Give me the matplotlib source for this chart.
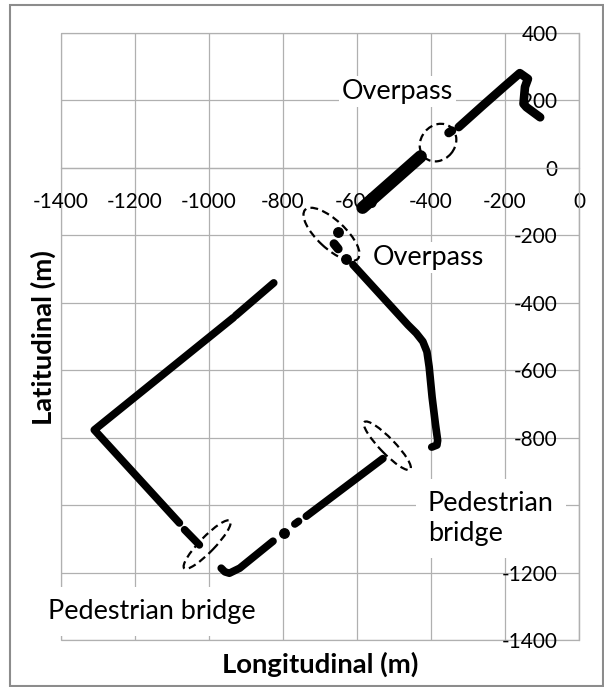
import matplotlib
matplotlib.use("Agg")
import matplotlib.pyplot as plt
from matplotlib.patches import Ellipse, Rectangle
from matplotlib.transforms import ScaledTranslation

# ---------------- data ----------------
x_ticks = [-1400, -1200, -1000, -800, -600, -400, -200, 0]
x_tick_labels = ["-1400", "-1200", "-1000", "-800", "-600", "-400", "-200", "0"]
y_ticks = [-1400, -1200, -1000, -800, -600, -400, -200, 0, 200, 400]
# the -1000 label is hidden behind the "Pedestrian bridge" note in the original
y_tick_labels = ["-1400", "-1200", "", "-800", "-600", "-400", "-200", "0", "200", "400"]

# trajectory pieces (longitudinal m, latitudinal m)
route_a_lon = [-585, -428]
route_a_lat = [-118, 34]
route_b_lon = [-352, -344]
route_b_lat = [104, 110]
route_c_lon = [-325, -260, -200, -160, -138, -146, -150, -142, -105]
route_c_lat = [121, 185, 243, 281, 264, 240, 190, 180, 150]
route_d_lon = [-611, -462, -440, -422, -411, -405, -397, -388, -382, -384, -398]
route_d_lat = [-287, -466, -490, -515, -545, -590, -680, -760, -808, -822, -828]
route_e1_lon = [-825, -928]
route_e1_lat = [-341, -438]
route_e2_lon = [-934, -1310, -1080]
route_e2_lat = [-444, -777, -1053]
route_e3_lon = [-1066, -1026]
route_e3_lat = [-1073, -1118]
route_f1_lon = [-967, -957, -945, -917, -827]
route_f1_lat = [-1187, -1198, -1202, -1187, -1107]
route_f2_lon = [-768, -758]
route_f2_lat = [-1056, -1048]
route_f3_lon = [-737, -530]
route_f3_lat = [-1033, -862]
blob_lon = [-662, -651]
blob_lat = [-225, -240]
dots_lon = [-651, -629, -798]
dots_lat = [-190, -269, -1083]

# annotations
ellipse_lon = [-381, -669, -518, -1005]
ellipse_lat = [75, -197, -824, -1117]
label_texts = ["Overpass", "Overpass", "Pedestrian\nbridge", "Pedestrian bridge"]
label_lon = [-490, -406, -409, -1154]
label_lat = [226, -266, -1039, -1316]

# ---------------- figure ----------------
W, H, DPI = 604, 687, 100
fig = plt.figure(figsize=(W / DPI, H / DPI), dpi=DPI)
plt.rcParams['font.family'] = ['Lato', 'DejaVu Sans']

L, R, T, B = 61, 579, 33, 640
ax = fig.add_axes([L / W, 1 - B / H, (R - L) / W, (B - T) / H])
ax.set_xlim(-1400, 0)
ax.set_ylim(-1400, 400)

grid_c = '#b0b0b0'
ax.set_axisbelow(True)
ax.grid(True, color=grid_c, lw=0.9)
for s in ['top', 'right']:
    ax.spines[s].set_visible(False)
ax.spines['left'].set_position(('data', 0))
ax.spines['bottom'].set_position(('data', 0))
for s in ['left', 'bottom']:
    ax.spines[s].set_color(grid_c)
    ax.spines[s].set_linewidth(0.9)
# outer frame of plot area
ax.add_patch(Rectangle((0, 0), 1, 1, transform=ax.transAxes, fill=False,
                       ec=grid_c, lw=0.9, clip_on=False, zorder=0.4))

ax.set_xticks(x_ticks)
ax.set_xticklabels(x_tick_labels)
ax.set_yticks(y_ticks)
ax.set_yticklabels(y_tick_labels)

fig.canvas.draw()
rend = fig.canvas.get_renderer()

def fitted_size(txt, target_px, weight='normal', base=20):
    t = fig.text(0, 0, txt, fontsize=base, fontweight=weight)
    w = t.get_window_extent(rend).width
    t.remove()
    return base * target_px / w

tick_fs = fitted_size("-1400", 56)
ann_fs = fitted_size("Pedestrian bridge", 209)
lab_fs = fitted_size("Longitudinal (m)", 196, 'bold')

ax.tick_params(axis='x', length=0, pad=17.5, labelsize=tick_fs, colors='black')
ax.tick_params(axis='y', length=0, pad=15.5, labelsize=tick_fs, colors='black')

# trajectory
lw = 5.5
kw = dict(color='black', solid_capstyle='round', solid_joinstyle='round', zorder=5)
ax.plot(route_a_lon, route_a_lat, lw=9.0, **kw)
ax.plot(route_b_lon, route_b_lat, lw=6.5, **kw)
ax.plot(route_c_lon, route_c_lat, lw=6.2, **kw)
ax.plot(route_d_lon, route_d_lat, lw=lw, **kw)
ax.plot(route_e1_lon, route_e1_lat, lw=lw, **kw)
ax.plot(route_e2_lon, route_e2_lat, lw=lw, **kw)
ax.plot(route_e3_lon, route_e3_lat, lw=lw, **kw)
ax.plot(route_f1_lon, route_f1_lat, lw=lw, **kw)
ax.plot(route_f2_lon, route_f2_lat, lw=lw, **kw)
ax.plot(route_f3_lon, route_f3_lat, lw=lw, **kw)
ax.plot(blob_lon, blob_lat, lw=6.5, **kw)
ax.plot(dots_lon, dots_lat, ls='none', marker='o', ms=6.8, color='black', zorder=5)

# ellipses: sizes in pixels (width, height, angle)
ell_px = [(40, 34, 50), (72, 28, -43), (66, 15, -46), (66, 15, 46)]
for (cx, cy), (w, h, a) in zip(zip(ellipse_lon, ellipse_lat), ell_px):
    tr = fig.dpi_scale_trans + ScaledTranslation(cx, cy, ax.transData)
    e = Ellipse((0, 0), w / DPI, h / DPI, angle=a, transform=tr, fill=False,
                ec='black', lw=1.6, ls=(0, (3.5, 2.0)), zorder=6, clip_on=False)
    ax.add_artist(e)

# text labels with white boxes
pads_px = [3, 3, 12, 12]
for txt, x, y, p in zip(label_texts, label_lon, label_lat, pads_px):
    ha = 'left' if '\n' in txt else 'center'
    pad = p / (ann_fs * DPI / 72)
    ax.text(x, y, txt, fontsize=ann_fs, ha=ha, va='center', linespacing=1.25,
            bbox=dict(boxstyle='square,pad=%.3f' % pad, fc='white', ec='none'),
            zorder=4, clip_on=False)

# axis titles
fig.text(320 / W, 1 - 664 / H, "Longitudinal (m)", fontsize=lab_fs, fontweight='bold',
         ha='center', va='center')
fig.text(43 / W, 1 - 338 / H, "Latitudinal (m)", fontsize=lab_fs, fontweight='bold',
         ha='center', va='center', rotation=90)

# chart border
fig.add_artist(Rectangle((10 / W, 1 - 686 / H), (603 - 10) / W, (686 - 5) / H,
                         transform=fig.transFigure, fill=False, ec='#8c8c8c', lw=1.5))

fig.savefig('out.png', dpi=DPI)
